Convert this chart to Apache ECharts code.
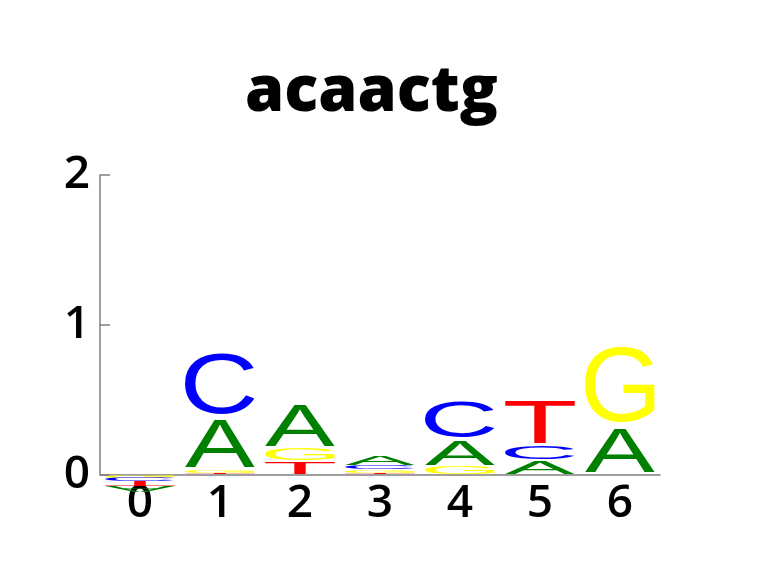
<!DOCTYPE html>
<html>
<head>
<meta charset="utf-8">
<script src="https://cdn.jsdelivr.net/npm/echarts@6/dist/echarts.min.js"></script>
<style>
  html, body { margin: 0; padding: 0; background: #fff; }
  #chart { width: 760px; height: 575px; }
</style>
</head>
<body>
<div id="chart"></div>
<script>
// sequence logo: letter heights per position (negative = drawn below the axis)
const positions = ['0', '1', '2', '3', '4', '5', '6']
const heightA = [-0.05, 0.35, 0.30, 0.065, 0.18, 0.095, 0.32]
const heightC = [-0.025, 0.45, 0, 0.025, 0.265, 0.097, 0]
const heightG = [-0.018, 0.02, 0.09, 0.02, 0.053, 0, 0.555]
const heightT = [-0.033, 0.01, 0.088, 0.012, 0, 0.313, 0]
const yTicks = [0, 1, 2]

const letters = ['A', 'C', 'G', 'T']
const letterHeights = [heightA, heightC, heightG, heightT]
const letterColors = { A: '#008000', C: '#0000ff', G: '#ffff00', T: '#ff0000' }
const glyphFont = '100px "Liberation Sans"'
const glyphWidth = 0.875
const vpad = 0.1

// ink box of each glyph, measured around a centre / middle anchor
const ctx = document.createElement('canvas').getContext('2d')
ctx.font = glyphFont
ctx.textAlign = 'center'
ctx.textBaseline = 'middle'
const metrics = {}
letters.forEach(l => {
	let m = ctx.measureText(l)
	metrics[l] = {
		left: m.actualBoundingBoxLeft,
		right: m.actualBoundingBoxRight,
		asc: m.actualBoundingBoxAscent,
		desc: m.actualBoundingBoxDescent
	}
})

const glyph = (l, x0, x1, top, bottom, flipped) => {
	let m = metrics[l]
	let sx = (x1 - x0) / (m.left + m.right)
	let sy = (bottom - top) / (m.asc + m.desc)
	let tx = x0 + sx * m.left
	let ty = flipped ? bottom - sy * m.asc : top + sy * m.asc
	return {
		type: 'text',
		x: tx,
		y: ty,
		scaleX: sx,
		scaleY: flipped ? -sy : sy,
		style: {
			text: l,
			font: glyphFont,
			fill: letterColors[l],
			align: 'center',
			verticalAlign: 'middle'
		}
	}
}

const renderItem = (params, api) => {
	let i = params.dataIndex
	let vals = letters.map((l, k) => ({ l, v: letterHeights[k][i] }))
	let pos = vals.filter(d => d.v > 0).sort((a, b) => a.v - b.v)
	let neg = vals.filter(d => d.v < 0).sort((a, b) => b.v - a.v)
	let cx = api.coord([i, 0])[0]
	let w = api.size([1, 0])[0] * glyphWidth
	let children = []

	let base = 0
	pos.forEach(d => {
		let y0 = api.coord([i, base])[1]
		let y1 = api.coord([i, base + d.v])[1]
		let pad = (y0 - y1) * vpad / 2
		children.push(glyph(d.l, cx - w / 2, cx + w / 2, y1 + pad, y0 - pad, false))
		base += d.v
	})

	base = 0
	neg.forEach(d => {
		let y0 = api.coord([i, base])[1]
		let y1 = api.coord([i, base + d.v])[1]
		let pad = (y1 - y0) * vpad / 2
		children.push(glyph(d.l, cx - w / 2, cx + w / 2, y0 + pad, y1 - pad, true))
		base += d.v
	})

	return { type: 'group', children }
}

const chart = echarts.init(document.getElementById('chart'), null, { renderer: 'canvas' })

chart.setOption({
	backgroundColor: '#fff',
	animation: false,
	title: {
		text: 'acaactg',
		left: 240,
		top: 57,
		textStyle: { fontFamily: 'Open Sans', fontWeight: 800, fontSize: 63, color: '#000' }
	},
	grid: { left: 100, top: 175, width: 560, height: 299.5 },
	xAxis: {
		type: 'category',
		data: positions,
		axisLine: { lineStyle: { color: '#7f7f7f', width: 1.5 } },
		axisTick: { show: false },
		axisLabel: { fontFamily: 'Open Sans', fontWeight: 600, fontSize: 46, color: '#000', margin: 6 }
	},
	yAxis: {
		type: 'value',
		min: yTicks[0],
		max: yTicks[yTicks.length - 1],
		interval: 1,
		splitLine: { show: false },
		axisLine: { show: true, lineStyle: { color: '#7f7f7f', width: 1.5 } },
		axisTick: { show: true, inside: true, length: 10, lineStyle: { color: '#7f7f7f', width: 1.5 } },
		axisLabel: { fontFamily: 'Open Sans', fontWeight: 600, fontSize: 46, color: '#000', margin: 10 }
	},
	series: [{
		type: 'custom',
		renderItem,
		clip: false,
		data: positions.map((p, i) => [i])
	}]
})
</script>
</body>
</html>
